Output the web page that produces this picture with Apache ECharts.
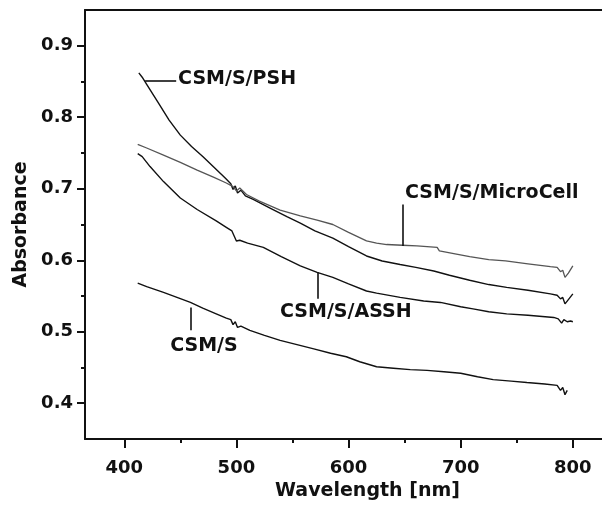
<!DOCTYPE html>
<html>
<head>
<meta charset="utf-8">
<script src="https://cdn.jsdelivr.net/npm/echarts@6/dist/echarts.min.js"></script>
<style>
  html, body { margin: 0; padding: 0; background: #fff; }
  #chart { width: 602px; height: 506px; }
</style>
</head>
<body>
<div id="chart"></div>
<script>
// spectra: [wavelength nm, absorbance]
var psh = [
  [413, 0.862], [416, 0.856], [420, 0.846], [430, 0.821], [440, 0.796], [450, 0.775],
  [460, 0.759], [470, 0.745], [480, 0.730], [490, 0.715], [495, 0.707], [497, 0.699],
  [499, 0.704], [501, 0.694], [504, 0.698], [508, 0.690], [515, 0.685], [530, 0.673],
  [545, 0.661], [557, 0.652], [570, 0.641], [586, 0.631], [600, 0.619], [616, 0.606],
  [630, 0.599], [646, 0.594], [660, 0.590], [676, 0.585], [690, 0.579], [708, 0.572],
  [725, 0.566], [741, 0.562], [760, 0.558], [780, 0.553], [786, 0.551], [789, 0.546],
  [791, 0.548], [793, 0.539], [796, 0.545], [800, 0.553]
]
var microCell = [
  [412, 0.762], [420, 0.757], [435, 0.747], [450, 0.737], [465, 0.726], [480, 0.716],
  [491, 0.708], [497, 0.703], [500, 0.697], [503, 0.701], [509, 0.692], [520, 0.683],
  [539, 0.670], [557, 0.662], [572, 0.656], [586, 0.650], [600, 0.639], [616, 0.627],
  [625, 0.624], [634, 0.622], [648, 0.621], [661, 0.620], [679, 0.618], [681, 0.613],
  [695, 0.609], [708, 0.605], [725, 0.601], [740, 0.599], [760, 0.595], [780, 0.591],
  [786, 0.590], [789, 0.584], [791, 0.586], [793, 0.576], [796, 0.582], [800, 0.592]
]
var assh = [
  [412, 0.749], [416, 0.745], [423, 0.731], [435, 0.710], [450, 0.687], [465, 0.671],
  [482, 0.655], [491, 0.646], [496, 0.641], [498, 0.634], [500, 0.627], [503, 0.628],
  [510, 0.624], [524, 0.618], [540, 0.605], [557, 0.592], [572, 0.583], [586, 0.576],
  [600, 0.567], [616, 0.557], [625, 0.554], [646, 0.548], [667, 0.543], [682, 0.541],
  [700, 0.535], [711, 0.532], [725, 0.528], [741, 0.525], [760, 0.523], [783, 0.520],
  [787, 0.518], [790, 0.512], [792, 0.517], [795, 0.514], [798, 0.515], [800, 0.514]
]
var csmS = [
  [412, 0.568], [420, 0.563], [435, 0.555], [447, 0.548], [459, 0.541], [470, 0.533],
  [482, 0.525], [491, 0.519], [495, 0.517], [497, 0.510], [499, 0.514], [501, 0.506],
  [504, 0.508], [512, 0.502], [525, 0.495], [539, 0.488], [554, 0.482], [569, 0.476],
  [584, 0.470], [598, 0.465], [610, 0.458], [625, 0.451], [640, 0.449], [655, 0.447],
  [670, 0.446], [685, 0.444], [700, 0.442], [715, 0.437], [729, 0.433], [745, 0.431],
  [759, 0.429], [775, 0.427], [786, 0.425], [789, 0.418], [791, 0.422], [793, 0.412],
  [795, 0.418]
]
var xMajor = [400, 500, 600, 700, 800]
var xMinor = [450, 550, 650, 750]
var yMajor = [0.4, 0.5, 0.6, 0.7, 0.8, 0.9]
var yMinor = [0.45, 0.55, 0.65, 0.75, 0.85]

var font = 'DejaVu Sans'
var ink = '#111'

// a curve with its name callout: leader line + bold label, both in data coords
function spectrum(name, data, color, width, lead, textAt) {
  return {
    name: name,
    type: 'line',
    data: data,
    showSymbol: false,
    smooth: false,
    lineStyle: { color: color, width: width },
    markLine: {
      silent: true,
      symbol: 'none',
      label: { show: false },
      lineStyle: { color: ink, width: 1.6, type: 'solid' },
      data: [[{ coord: lead[0] }, { coord: lead[1] }]]
    },
    markPoint: {
      silent: true,
      symbol: 'circle',
      symbolSize: 0,
      data: [{ coord: textAt }],
      label: {
        show: true,
        position: 'right',
        distance: 0,
        formatter: name,
        color: ink,
        fontFamily: font,
        fontWeight: 'bold',
        fontSize: 19
      }
    }
  }
}

function axisBase(extra) {
  return Object.assign({
    type: 'value',
    splitLine: { show: false },
    axisLine: { show: false },
    axisTick: { show: false },
    axisLabel: { show: false }
  }, extra)
}

var chart = echarts.init(document.getElementById('chart'))
chart.setOption({
  animation: false,
  backgroundColor: '#fff',
  grid: { left: 85, top: 10, right: 0, bottom: 67 },
  xAxis: [
    axisBase({
      min: 365, max: 826, position: 'bottom',
      name: 'Wavelength [nm]', nameLocation: 'middle', nameGap: 43,
      // the original plot was cropped on the right, so its title sits right of centre
      nameTextStyle: { color: ink, fontFamily: font, fontWeight: 'bold', fontSize: 19, padding: [0, 0, 0, 48] },
      axisLine: { show: true, lineStyle: { color: ink, width: 2 } },
      axisTick: { show: true, length: 9, customValues: xMajor, lineStyle: { color: ink, width: 2 } },
      axisLabel: {
        show: true, customValues: xMajor, margin: 20,
        color: ink, fontFamily: font, fontWeight: 'bold', fontSize: 18
      }
    }),
    axisBase({
      min: 365, max: 826, position: 'bottom',
      axisTick: { show: true, length: 4, customValues: xMinor, lineStyle: { color: ink, width: 2 } }
    }),
    axisBase({
      min: 365, max: 826, position: 'top',
      axisLine: { show: true, lineStyle: { color: ink, width: 2 } }
    })
  ],
  yAxis: [
    axisBase({
      min: 0.35, max: 0.95, position: 'left',
      name: 'Absorbance', nameLocation: 'middle', nameGap: 44,
      nameTextStyle: { color: ink, fontFamily: font, fontWeight: 'bold', fontSize: 19 },
      axisLine: { show: true, lineStyle: { color: ink, width: 2 } },
      axisTick: { show: true, length: 8, customValues: yMajor, lineStyle: { color: ink, width: 2 } },
      axisLabel: {
        show: true, customValues: yMajor, margin: 12,
        formatter: function (v) { return v.toFixed(1) },
        color: ink, fontFamily: font, fontWeight: 'bold', fontSize: 18
      }
    }),
    axisBase({
      min: 0.35, max: 0.95, position: 'left',
      axisTick: { show: true, length: 4, customValues: yMinor, lineStyle: { color: ink, width: 2 } }
    })
  ],
  series: [
    spectrum('CSM/S/PSH', psh, ink, 1.4, [[418.6, 0.851], [446.3, 0.851]], [448, 0.853]),
    spectrum('CSM/S/MicroCell', microCell, '#555', 1.3, [[648.2, 0.678], [648.2, 0.620]], [650.4, 0.694]),
    spectrum('CSM/S/ASSH', assh, ink, 1.4, [[572.2, 0.583], [572.2, 0.546]], [538.9, 0.527]),
    spectrum('CSM/S', csmS, ink, 1.4, [[459.2, 0.534], [459.2, 0.502]], [441, 0.480])
  ]
})
</script>
</body>
</html>
